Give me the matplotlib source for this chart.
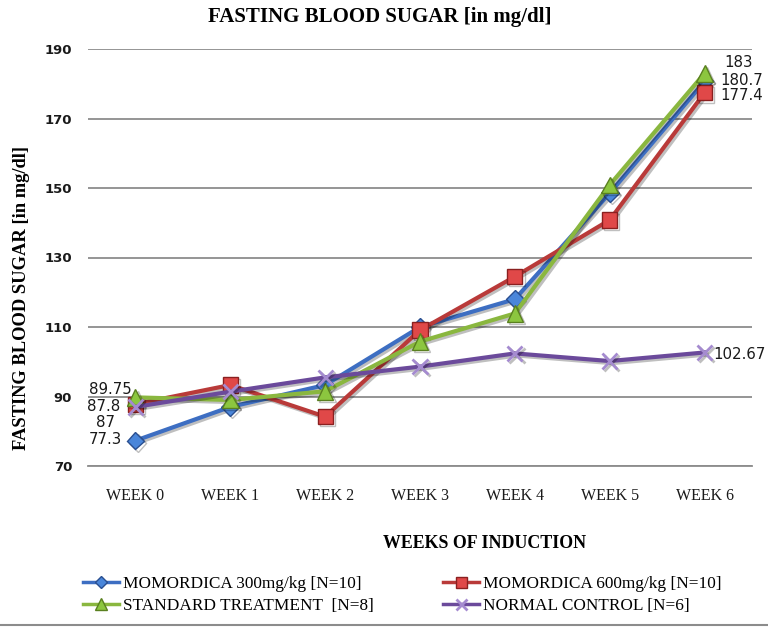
import matplotlib
matplotlib.use("Agg")
import matplotlib.pyplot as plt
import matplotlib.patheffects as pe
from matplotlib.lines import Line2D

weeks = ["WEEK 0", "WEEK 1", "WEEK 2", "WEEK 3", "WEEK 4", "WEEK 5", "WEEK 6"]
momordica_300 = [77.3, 87.0, 93.3, 110.0, 118.0, 148.5, 180.7]
momordica_600 = [87.8, 93.3, 84.2, 109.1, 124.5, 140.8, 177.4]
standard_treatment = [89.75, 89.0, 91.5, 105.8, 113.9, 150.9, 183.0]
normal_control = [87.0, 91.4, 95.5, 98.6, 102.4, 100.2, 102.67]
y_ticks = [70, 90, 110, 130, 150, 170, 190]

series = [
    ("MOMORDICA 300mg/kg [N=10]", momordica_300, "#3D6EC2", "D", "#4A86DA", "#2A4F90", 9),
    ("MOMORDICA 600mg/kg [N=10]", momordica_600, "#B93A39", "s", "#E04848", "#8A2020", 11),
    ("STANDARD TREATMENT  [N=8]", standard_treatment, "#8AB73F", "^", "#8CC63F", "#5A8020", 12),
    ("NORMAL CONTROL [N=6]", normal_control, "#6B4A9B", "x", "#A58BD0", "#A58BD0", 11),
]

fig = plt.figure(figsize=(7.68, 6.28), dpi=100)
ax = fig.add_axes([88 / 768, 1 - 466 / 628, 664 / 768, 417 / 628])

x = list(range(len(weeks)))
shadow = [pe.SimpleLineShadow(offset=(1.5, -1.5), alpha=0.25, shadow_color="black"), pe.Normal()]
handles = []
for label, vals, color, marker, mface, medge, msize in series:
    mew = 2.0 if marker == "x" else 1.0
    ax.plot(x, vals, color=color, lw=3, marker=marker, markersize=msize,
            markerfacecolor=mface, markeredgecolor=medge, markeredgewidth=mew,
            path_effects=shadow, zorder=3)
    handles.append(Line2D([], [], color=color, lw=2.5, marker=marker, markersize=msize * 0.72,
                          markerfacecolor=mface, markeredgecolor=medge, markeredgewidth=mew))

ax.set_xlim(-0.5, len(weeks) - 0.5)
ax.set_ylim(70, 190)
ax.set_yticks(y_ticks)
ax.set_xticks(x)
ax.set_xticklabels(weeks)
ax.grid(axis="y", color="#8C8C8C", lw=1.3)
ax.set_axisbelow(True)
for s in ["top", "right", "left"]:
    ax.spines[s].set_visible(False)
ax.spines["bottom"].set_color("#8C8C8C")
ax.spines["bottom"].set_linewidth(1.3)
ax.tick_params(axis="both", length=0, labelcolor="#1A1A1A")
ax.tick_params(axis="y", pad=11.5)
ax.tick_params(axis="x", pad=16)
for t in ax.get_yticklabels():
    t.set_fontfamily("DejaVu Sans")
    t.set_fontweight("bold")
    t.set_fontsize(9.5)
for t in ax.get_xticklabels():
    t.set_fontfamily("Liberation Serif")
    t.set_fontsize(11.5)

# value labels at the first and last week
lab_kw = dict(textcoords="offset points", fontsize=10.8, color="#1A1A1A",
              family="DejaVu Sans", annotation_clip=False, zorder=5)
ax.annotate(f"{standard_treatment[0]:g}", (0, standard_treatment[0]), xytext=(-3, 5.5), ha="right", va="center", **lab_kw)
ax.annotate(f"{momordica_600[0]:g}", (0, momordica_600[0]), xytext=(-11, -2), ha="right", va="center", **lab_kw)
ax.annotate(f"{normal_control[0]:g}", (0, normal_control[0]), xytext=(-14.5, -11), ha="right", va="center", **lab_kw)
ax.annotate(f"{momordica_300[0]:g}", (0, momordica_300[0]), xytext=(-9.5, 1), ha="right", va="center", **lab_kw)
ax.annotate(f"{standard_treatment[6]:g}", (6, standard_treatment[6]), xytext=(14.5, 8), ha="left", va="center", **lab_kw)
ax.annotate(f"{momordica_300[6]:g}", (6, momordica_300[6]), xytext=(11.5, 0.5), ha="left", va="center", **lab_kw)
ax.annotate(f"{momordica_600[6]:g}", (6, momordica_600[6]), xytext=(11.5, -2), ha="left", va="center", **lab_kw)
ax.annotate(f"{normal_control[6]:g}", (6, normal_control[6]), xytext=(6.5, -1.5), ha="left", va="center", **lab_kw)

fig.text(380 / 768, 1 - 17 / 628, "FASTING BLOOD SUGAR [in mg/dl]", ha="center", va="center",
         family="Liberation Serif", fontweight="bold", fontsize=15)
fig.text(22 / 768, 1 - 298 / 628, "FASTING BLOOD SUGAR [in mg/dl]", ha="center", va="center",
         rotation=90, family="Liberation Serif", fontweight="bold", fontsize=13.3)
fig.text(485 / 768, 1 - 543 / 628, "WEEKS OF INDUCTION", ha="center", va="center",
         family="Liberation Serif", fontweight="bold", fontsize=12.9)

# legend laid out row by row: 300 | 600 on top, standard | control below
order = [0, 2, 1, 3]
leg = fig.legend(handles=[handles[i] for i in order],
                 labels=[series[i][0] for i in order], ncol=2, loc="center left",
                 bbox_to_anchor=(74 / 768, 1 - 595 / 628), frameon=False, borderpad=0,
                 prop={"family": "Liberation Serif", "size": 12.4},
                 handlelength=2.1, handletextpad=0.25, columnspacing=4.0,
                 labelspacing=0.3)

fig.add_artist(Line2D([0, 1], [1 - 625 / 628] * 2, color="#8C8C8C", lw=1.5))

fig.savefig("out.png", dpi=100)
